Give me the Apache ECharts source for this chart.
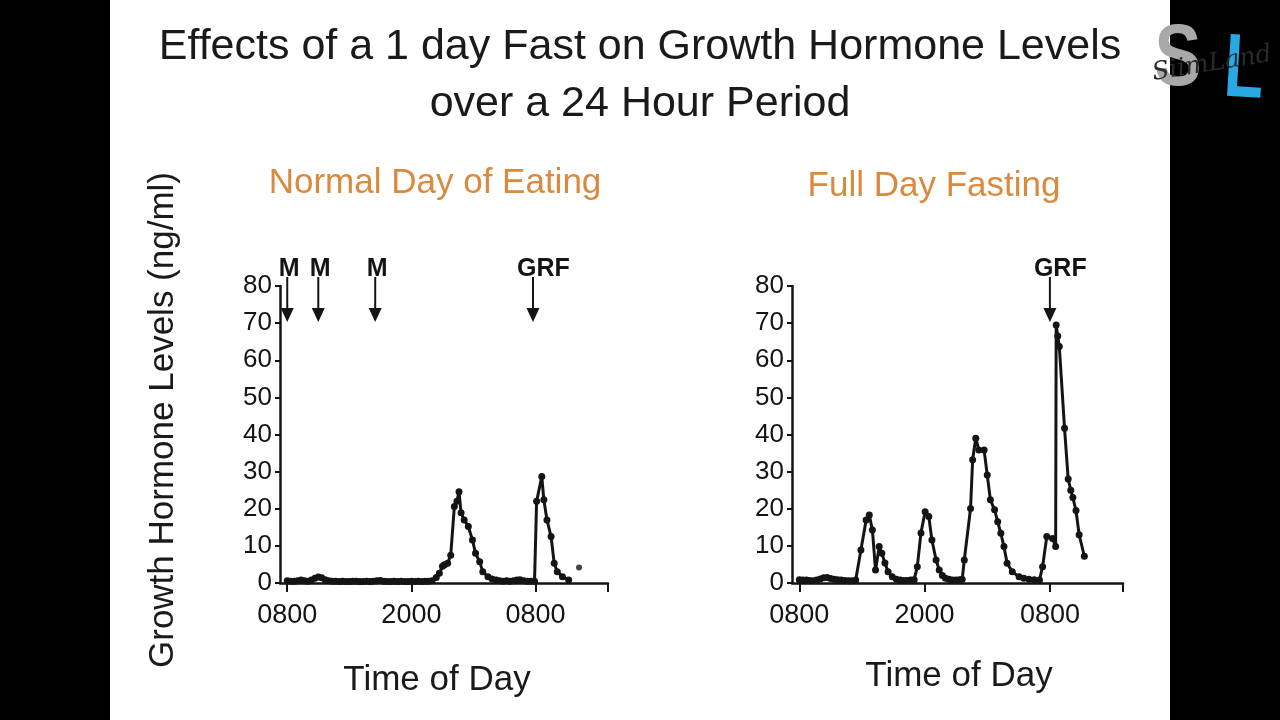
<!DOCTYPE html>
<html>
<head>
<meta charset="utf-8">
<script src="https://cdn.jsdelivr.net/npm/echarts@6/dist/echarts.min.js"></script>
<style>html,body{margin:0;padding:0;background:#000;}#c{width:1280px;height:720px;}</style>
</head>
<body>
<div id="c"></div>
<script>
// ---- data (hours after 0800, GH ng/ml) ----
const normalData = [
  [0,0.6],[0.33,0.5],[0.67,0.5],[1,0.6],[1.33,0.8],[1.67,0.6],[2,0.5],[2.33,0.8],[2.67,1.3],[3,1.6],
  [3.33,1.4],[3.67,0.9],[4,0.6],[4.33,0.5],[4.67,0.5],[5,0.4],[5.33,0.5],[5.67,0.4],[6,0.4],[6.33,0.5],
  [6.67,0.5],[7,0.4],[7.33,0.4],[7.67,0.5],[8,0.4],[8.33,0.5],[8.67,0.6],[9,0.7],[9.33,0.5],[9.67,0.4],
  [10,0.4],[10.33,0.5],[10.67,0.4],[11,0.5],[11.33,0.4],[11.67,0.4],[12,0.5],[12.33,0.4],[12.67,0.5],[13,0.4],
  [13.33,0.5],[13.67,0.5],[14,0.6],[14.4,1.5],[14.7,2.6],[15.0,4.5],[15.2,4.9],[15.5,5.3],[15.8,7.5],[16.15,20.6],
  [16.4,22],[16.6,24.6],[16.8,18.9],[17.1,17],[17.5,15.2],[17.9,11.6],[18.2,8],[18.6,5.7],[18.9,3],[19.4,1.7],
  [19.8,1.1],[20.2,0.8],[20.53,0.6],[20.87,0.5],[21.2,0.6],[21.53,0.5],[21.87,0.6],[22.2,0.8],[22.5,0.9],[22.87,0.6],
  [23.2,0.5],[23.53,0.5],[23.9,0.5],[24.1,22],[24.6,28.7],[24.8,22.4],[25.1,17],[25.5,12.5],[25.8,5.3],[26.1,3],
  [26.6,1.7],[27.2,0.8]
];
const normalStray = [[28.2,4.2]];
const fastData = [
  [0,0.9],[0.33,0.8],[0.67,0.8],[1,0.7],[1.33,0.6],[1.67,0.8],[2,1.1],[2.33,1.4],[2.67,1.5],[3,1.2],
  [3.33,1],[3.67,0.9],[4,0.8],[4.33,0.7],[4.67,0.6],[5,0.6],[5.4,0.8],[5.9,8.9],[6.4,17],[6.7,18.3],
  [7.0,14.3],[7.3,3.5],[7.65,9.8],[7.9,8],[8.2,5.4],[8.5,3],[8.9,1.7],[9.3,1],[9.67,0.8],[10,0.7],
  [10.33,0.7],[10.67,0.8],[11,0.9],[11.3,4.4],[11.65,13.5],[12.05,19.2],[12.4,17.9],[12.7,11.6],[13.1,6.2],[13.4,3.5],
  [13.7,2],[14.0,1.3],[14.33,1],[14.67,0.8],[15.0,0.8],[15.33,0.9],[15.6,1],[15.8,6.2],[16.4,20.1],[16.6,33.2],
  [16.9,39],[17.2,35.8],[17.7,35.8],[18.0,29.1],[18.3,22.4],[18.7,19.7],[19.0,16.5],[19.3,13.4],[19.6,9.8],[19.9,5.3],
  [20.4,3],[21.05,1.7],[21.5,1.3],[22.0,1],[22.5,0.9],[23.0,0.8],[23.3,4.4],[23.7,12.5],[24.25,12],[24.55,9.8],
  [24.6,69.5],[24.75,66.5],[24.9,63.7],[25.4,41.7],[25.75,28],[26.0,25],[26.2,23],[26.5,19.5],[26.8,13],[27.3,7.2]
];
const normalMarkers = [[0,'M'],[3.0,'M'],[8.5,'M'],[23.75,'GRF']];
const fastMarkers = [[24.0,'GRF']];
const xTickValues = [0,12,24,31];
const xLabelValues = [0,12,24];
const xLabelText = {0:'0800',12:'2000',24:'0800'};
const yTicks = [0,10,20,30,40,50,60,70,80];

const FONT = '"Liberation Sans", Arial, Helvetica, sans-serif';
const INK = '#141414';

function xAxisCfg(gi){
  return {
    type:'value', gridIndex:gi, min:-0.7, max:31,
    axisLine:{show:true, onZero:false, lineStyle:{color:INK, width:2.5}},
    axisTick:{show:true, customValues:xTickValues, length:9, inside:false, lineStyle:{color:INK, width:2}},
    axisLabel:{show:true, customValues:xLabelValues, formatter:v=>xLabelText[v]||'', color:INK, fontSize:27, fontFamily:FONT, margin:19},
    splitLine:{show:false}
  };
}
function yAxisCfg(gi){
  return {
    type:'value', gridIndex:gi, min:yTicks[0], max:yTicks[yTicks.length-1], interval:10,
    axisLine:{show:true, onZero:false, lineStyle:{color:INK, width:2.5}},
    axisTick:{show:true, length:5, lineStyle:{color:INK, width:2}},
    axisLabel:{color:INK, fontSize:26, fontFamily:FONT, margin:8},
    splitLine:{show:false}
  };
}
function markerSeries(gi, markers){
  return {
    type:'custom', xAxisIndex:gi, yAxisIndex:gi, clip:false, silent:true, z:5,
    data: markers.map(m=>[m[0], 80]),
    renderItem:(params, api)=>{
      const p = api.coord([api.value(0), api.value(1)]);
      const label = markers[params.dataIndex][1];
      const isGRF = label === 'GRF';
      return {type:'group', children:[
        {type:'line', shape:{x1:p[0], y1:p[1]-9, x2:p[0], y2:p[1]+24}, style:{stroke:INK, lineWidth:2}},
        {type:'polygon', shape:{points:[[p[0]-6.5,p[1]+22],[p[0]+6.5,p[1]+22],[p[0],p[1]+36]]}, style:{fill:INK}},
        {type:'text', style:{text:label, x: isGRF ? p[0]-16 : p[0]+2, y:p[1]-17,
          align: isGRF ? 'left' : 'center', verticalAlign:'middle',
          font:'bold 25px ' + FONT, fill:INK}}
      ]};
    }
  };
}
function lineSeries(gi, data){
  return {
    type:'line', xAxisIndex:gi, yAxisIndex:gi, data:data, smooth:false,
    symbol:'circle', symbolSize:7, showSymbol:true, showAllSymbol:true,
    lineStyle:{color:INK, width:3}, itemStyle:{color:INK}, z:3
  };
}

const chart = echarts.init(document.getElementById('c'), null, {renderer:'canvas'});
chart.setOption({
  animation:false,
  backgroundColor:'#ffffff',
  title:[{
    text:'Effects of a 1 day Fast on Growth Hormone Levels\nover a 24 Hour Period',
    left:'center', top:14,
    textStyle:{fontFamily:FONT, fontSize:43, fontWeight:'normal', color:'#1a1a1a', lineHeight:57}
  }],
  grid:[
    {left:280, top:286, width:328, height:297},
    {left:792, top:286, width:331, height:297}
  ],
  xAxis:[xAxisCfg(0), xAxisCfg(1)],
  yAxis:[yAxisCfg(0), yAxisCfg(1)],
  series:[
    lineSeries(0, normalData),
    {type:'scatter', xAxisIndex:0, yAxisIndex:0, data:normalStray, symbol:'circle', symbolSize:6, itemStyle:{color:INK}},
    markerSeries(0, normalMarkers),
    lineSeries(1, fastData),
    markerSeries(1, fastMarkers)
  ],
  graphic:[
    {type:'rect', shape:{x:0, y:0, width:110, height:720}, style:{fill:'#000'}, z:-1},
    {type:'rect', shape:{x:1170, y:0, width:110, height:720}, style:{fill:'#000'}, z:-1},
    {type:'text', style:{text:'Normal Day of Eating', x:435, y:183, align:'center', verticalAlign:'middle', font:'35px ' + FONT, fill:'#d98a3e'}},
    {type:'text', style:{text:'Full Day Fasting', x:934, y:186, align:'center', verticalAlign:'middle', font:'35px ' + FONT, fill:'#d98a3e'}},
    {type:'text', x:163, y:420, rotation:Math.PI/2, style:{text:'Growth Hormone Levels (ng/ml)', x:0, y:0, align:'center', verticalAlign:'middle', font:'35px ' + FONT, fill:'#1a1a1a'}},
    {type:'text', style:{text:'Time of Day', x:437, y:680, align:'center', verticalAlign:'middle', font:'35px ' + FONT, fill:'#1a1a1a'}},
    {type:'text', style:{text:'Time of Day', x:959, y:676, align:'center', verticalAlign:'middle', font:'35px ' + FONT, fill:'#1a1a1a'}},
    // logo
    {type:'text', x:1178, y:61, scaleX:0.8, style:{text:'S', x:0, y:0, align:'center', verticalAlign:'middle', font:'bold 88px ' + FONT, fill:'#a8a8a8'}, z:10},
    {type:'text', x:1244, y:72, scaleX:0.72, rotation:-0.06, style:{text:'L', x:0, y:0, align:'center', verticalAlign:'middle', font:'bold 90px ' + FONT, fill:'#29a9e3'}, z:10},
    {type:'text', x:1212, y:64, rotation:0.16, style:{text:'SiimLand', x:0, y:0, align:'center', verticalAlign:'middle', font:'italic 25px "DejaVu Serif", serif', fill:'#2a2a2a'}, z:11}
  ]
});
</script>
</body>
</html>
